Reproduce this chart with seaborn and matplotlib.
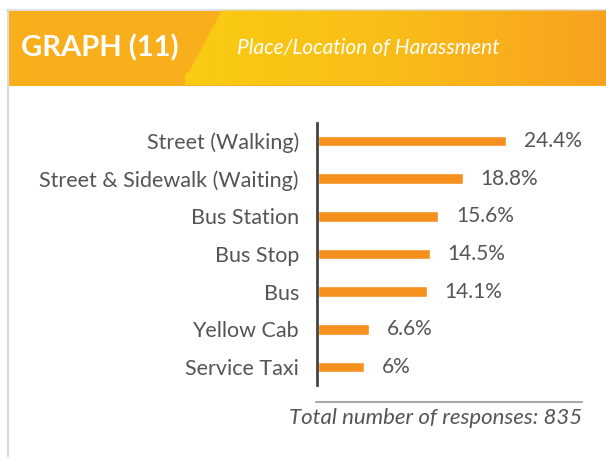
import numpy as np
import seaborn as sns
import matplotlib
matplotlib.use('Agg')
import matplotlib.pyplot as plt
from matplotlib.colors import LinearSegmentedColormap
from matplotlib.path import Path
from matplotlib.patches import PathPatch, Rectangle

categories = ['Street (Walking)', 'Street & Sidewalk (Waiting)', 'Bus Station',
              'Bus Stop', 'Bus', 'Yellow Cab', 'Service Taxi']
values = [24.4, 18.8, 15.6, 14.5, 14.1, 6.6, 6.0]
value_labels = ['24.4%', '18.8%', '15.6%', '14.5%', '14.1%', '6.6%', '6%']
title = 'GRAPH (11)'
subtitle = 'Place/Location of Harassment'
footer = 'Total number of responses: 835'

sns.set_theme(style='white')
plt.rcParams['font.family'] = ['Lato', 'DejaVu Sans']

W, H = 606, 457
fig = plt.figure(figsize=(W / 100, H / 100), dpi=100)

# background layer in pixel coordinates
bg = fig.add_axes([0, 0, 1, 1])
bg.set_xlim(0, W)
bg.set_ylim(H, 0)
bg.axis('off')

bg.plot([7, W], [10, 10], color='#d9d9d9', lw=1.2)
bg.plot([7.5, 7.5], [10, H], color='#dcdcdc', lw=1.5)
bg.add_patch(Rectangle((8, 10.5), W - 8, 75, color='#F9AE1B', lw=0))

verts = [(222, 10.5), (W, 10.5), (W, 85.5), (158, 85.5), (178, 84), (190, 70), (222, 10.5)]
codes = [Path.MOVETO, Path.LINETO, Path.LINETO, Path.LINETO, Path.CURVE3, Path.CURVE3, Path.LINETO]
clip = PathPatch(Path(verts, codes), facecolor='none', edgecolor='none')
bg.add_patch(clip)
cmap = LinearSegmentedColormap.from_list('hdr', ['#FACC12', '#F9BD19', '#F7A21F'])
grad = np.linspace(0, 1, 256).reshape(1, -1)
im = bg.imshow(grad, extent=[185, W, 85.5, 10.5], aspect='auto', cmap=cmap, zorder=2)
im.set_clip_path(clip)

bg.text(21, 48, title, color='white', fontsize=21, fontweight='bold', va='center', ha='left', zorder=3)
bg.text(237, 48, subtitle, color='white', fontsize=15, fontstyle='italic', va='center', ha='left', zorder=3)

bg.plot([316, 582], [402, 402], color='#a8a8a8', lw=1.5)
bg.text(582, 418, footer, color='#555555', fontsize=16, fontstyle='italic', ha='right', va='center')

# bar chart
x0, x1 = 316, 590
y0, y1 = 123, 385
ax = fig.add_axes([x0 / W, 1 - y1 / H, (x1 - x0) / W, (y1 - y0) / H])
ax.patch.set_alpha(0)
sns.barplot(x=values, y=categories, orient='h', color='#F5901F', width=0.29,
            saturation=1, ax=ax)
px = 7.7
ax.set_xlim(-2 / px, (x1 - x0 - 2) / px)
ax.set_ylim(6.477, -0.477)
for i, (v, lab) in enumerate(zip(values, value_labels)):
    ax.text(v + 18 / px, i, lab, color='#555555', fontsize=15, va='center', ha='left')

for s in ['top', 'right', 'bottom']:
    ax.spines[s].set_visible(False)
ax.spines['left'].set_color('#444444')
ax.spines['left'].set_linewidth(2)
ax.spines['left'].set_position(('data', -1 / px))
ax.set_xticks([])
ax.tick_params(axis='y', length=0, pad=13, labelsize=15.5, labelcolor='#555555')
ax.set_xlabel('')
ax.set_ylabel('')

fig.savefig('out.png', dpi=100)
